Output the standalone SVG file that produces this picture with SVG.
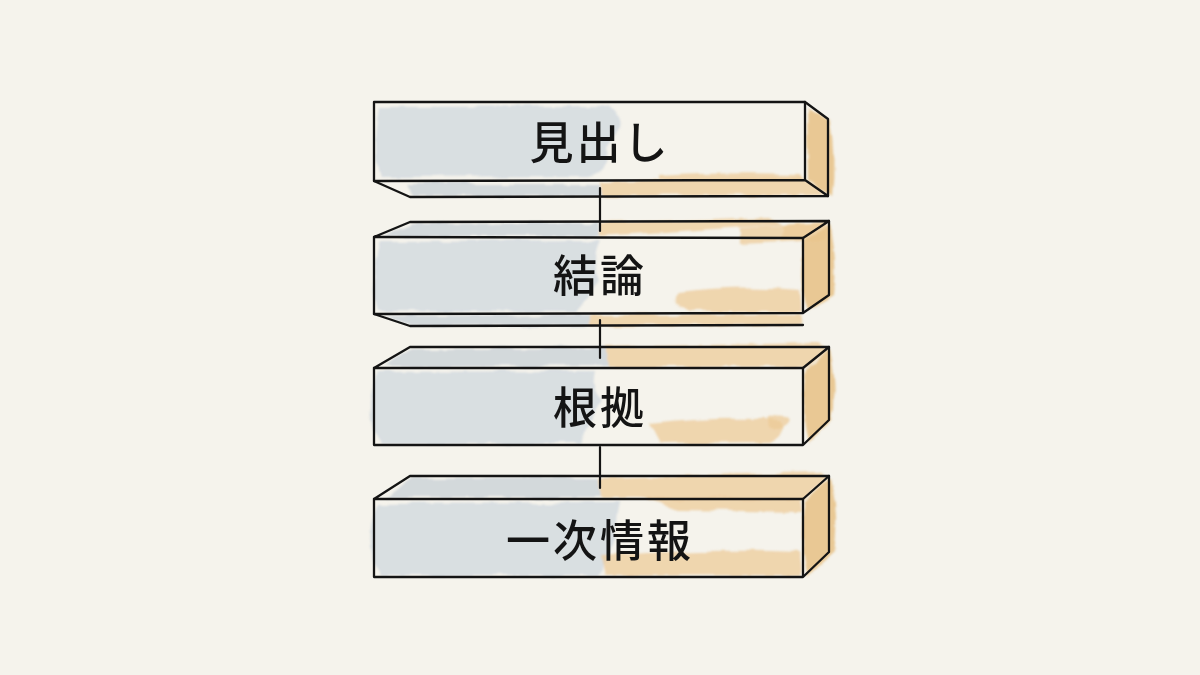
<svg xmlns="http://www.w3.org/2000/svg" width="1200" height="675" viewBox="0 0 1200 675">
<defs>
<filter id="wc" x="-10%" y="-40%" width="120%" height="180%">
<feTurbulence type="fractalNoise" baseFrequency="0.035" numOctaves="3" seed="7" result="noise"/>
<feDisplacementMap in="SourceGraphic" in2="noise" scale="8" xChannelSelector="R" yChannelSelector="G" result="d"/>
<feGaussianBlur in="d" stdDeviation="0.8"/>
</filter>
<style>
.bg{fill:#f5f3ec}
.blue{fill:#d3dbdf;opacity:0.85}
.blue2{fill:#ccd4d8;opacity:0.85}
.peach{fill:#ecc994;opacity:0.7}
.peachside{fill:#e8c38b;opacity:0.9}
.ln{fill:none;stroke:#141414;stroke-width:2.3;stroke-linecap:round;stroke-linejoin:round}
.lbl{font-family:"Noto Sans CJK JP","Noto Sans",sans-serif;font-size:44px;font-weight:500;fill:#141414;text-anchor:middle;letter-spacing:3px}
.conn{stroke:#141414;stroke-width:2.2;stroke-linecap:round}
</style>
</defs>
<rect class="bg" width="1200" height="675"/>

<g id="node-midashi">
<g filter="url(#wc)">
<path class="blue" d="M380,107 L600,106 Q625,112 618,130 L605,150 Q612,170 590,176 L380,177 Q372,150 380,107 Z"/>
<path class="blue2" d="M405,184 L600,184 L602,196 L412,196 Z"/>
<path class="peach" d="M600,182 L800,178 L826,195 L602,196 Z"/>
<path class="peach" d="M660,176 Q720,172 800,174 L803,180 L660,180 Z"/>
<path class="peachside" d="M807,108 L830,121 Q836,160 832,196 L808,182 Z"/>
</g>
<path class="ln" d="M374,102 L805,102 L828,119 L828,196 L410,197 L374,181 Z"/>
<path class="ln" d="M374,181 L805,180 L828,196 M805,102 L805,180"/>
<text class="lbl" x="600" y="159">見出し</text>
</g>

<g id="node-ketsuron">
<g filter="url(#wc)">
<path class="blue2" d="M412,224 L598,223 L600,236 L385,236 Z"/>
<path class="peach" d="M600,223 L770,217 Q790,228 780,240 L805,236 L828,222 L600,236 Z"/>
<path class="peach" d="M740,228 L826,222 L826,240 L740,244 Z"/>
<path class="blue" d="M380,241 L600,240 Q590,260 600,280 Q585,300 575,312 L378,311 Q368,280 380,241 Z"/>
<path class="peach" d="M680,292 Q740,284 800,290 L802,312 L690,312 Q670,302 680,292 Z"/>
<path class="peachside" d="M806,238 L830,224 Q838,265 834,294 L808,310 Q796,280 806,238 Z"/>
<path class="blue2" d="M385,316 L590,315 L590,325 L410,326 Z"/>
<path class="peach" d="M590,315 L800,314 L802,325 L590,326 Z"/>
</g>
<path class="ln" d="M374,237 L410,222 L829,221 L803,238 Z"/>
<path class="ln" d="M374,237 L374,314 L803,313 L803,238 M829,221 L829,295 L803,313"/>
<path class="ln" d="M374,314 L410,326 L803,325"/>
<text class="lbl" x="600" y="292">結論</text>
</g>

<g id="node-konkyo">
<g filter="url(#wc)">
<path class="blue2" d="M412,349 L605,348 L608,366 L385,367 Z"/>
<path class="peach" d="M605,347 L820,343 L828,350 L805,367 L608,367 Z"/>
<path class="blue" d="M378,372 L595,371 Q590,390 602,400 Q590,420 580,444 L380,444 Q362,420 378,372 Z"/>
<path class="peach" d="M650,424 Q720,416 780,420 Q790,432 770,442 L660,443 Z"/>
<path class="peach" d="M765,418 Q780,410 790,420 Q785,430 770,428 Z"/>
<path class="peachside" d="M806,369 L830,349 Q838,390 832,420 L808,443 Q800,410 806,369 Z"/>
</g>
<path class="ln" d="M374,368 L410,347 L829,347 L803,368 Z"/>
<path class="ln" d="M374,368 L374,445 L803,445 L803,368 M829,347 L829,420 L803,445"/>
<text class="lbl" x="600" y="424">根拠</text>
</g>

<g id="node-ichijijoho">
<g filter="url(#wc)">
<path class="blue2" d="M412,478 L598,477 L600,498 L385,498 Z"/>
<path class="peach" d="M598,478 L820,472 L828,478 L805,499 L600,499 Z"/>
<path class="peach" d="M640,498 L800,498 L802,512 L680,510 Z"/>
<path class="blue" d="M378,504 L618,503 Q612,525 618,540 Q605,560 600,575 L380,575 Q362,540 378,504 Z"/>
<path class="peach" d="M600,556 Q700,548 800,552 L802,575 L605,576 Z"/>
<path class="peachside" d="M806,501 L830,478 Q840,520 834,552 L808,575 Q798,540 806,501 Z"/>
</g>
<path class="ln" d="M374,499 L410,476 L829,476 L803,499 Z"/>
<path class="ln" d="M374,499 L374,577 L803,577 L803,499 M829,476 L829,552 L803,577"/>
<text class="lbl" x="600" y="557">一次情報</text>
</g>

<g id="connectors">
<line class="conn" x1="600" y1="188" x2="600" y2="231"/>
<line class="conn" x1="600" y1="320" x2="600" y2="358"/>
<line class="conn" x1="600" y1="447" x2="600" y2="488"/>
</g>
</svg>
